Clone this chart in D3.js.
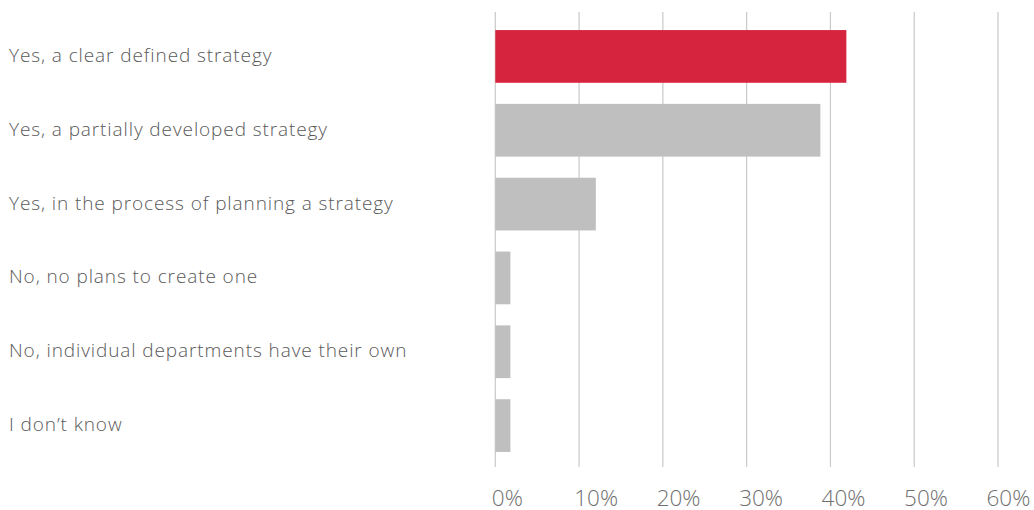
<!DOCTYPE html>
<html>
<head>
<meta charset="utf-8">
<script src="https://cdn.jsdelivr.net/npm/d3@7"></script>
<style>
  html, body { margin: 0; padding: 0; background: #fff; }
  svg { display: block; }
  text { font-family: "Open Sans", Lato, sans-serif; font-weight: 300; }
</style>
</head>
<body>
<svg id="chart" width="1034" height="510"></svg>
<script>
// Survey answers and share of respondents (%)
const categories = [
  "Yes, a clear defined strategy",
  "Yes, a partially developed strategy",
  "Yes, in the process of planning a strategy",
  "No, no plans to create one",
  "No, individual departments have their own",
  "I don\u2019t know"
];
const values = [41.9, 38.8, 12.0, 1.8, 1.8, 1.8];
const tickValues = [0, 10, 20, 30, 40, 50, 60];
const tickLabels = ["0%", "10%", "20%", "30%", "40%", "50%", "60%"];

const svg = d3.select("#chart");

const x = d3.scaleLinear().domain([0, 60]).range([495.3, 998]);
// tick labels sit on a slightly tighter spacing than the gridlines
const xLabel = d3.scaleLinear().domain([0, 60]).range([491.8, 986.5]);
const y = d3.scaleBand().domain(categories).range([19.5, 462.5]).paddingInner(0.286).paddingOuter(0.143);

const gridTop = 12, gridBottom = 467;

// vertical gridlines
svg.append("g")
  .selectAll("line")
  .data(tickValues)
  .join("line")
  .attr("x1", d => x(d)).attr("x2", d => x(d))
  .attr("y1", gridTop).attr("y2", gridBottom)
  .attr("stroke", "#c9c9c9")
  .attr("stroke-width", 1.2);

// bars
svg.append("g")
  .selectAll("rect")
  .data(categories)
  .join("rect")
  .attr("x", x(0))
  .attr("y", d => y(d))
  .attr("width", (d, i) => x(values[i]) - x(0))
  .attr("height", y.bandwidth())
  .attr("fill", (d, i) => i === 0 ? "#d6243f" : "#bebfbe");

// category labels
svg.append("g")
  .selectAll("text")
  .data(categories)
  .join("text")
  .attr("x", 9)
  .attr("y", d => y(d) + y.bandwidth() / 2 + 5.5)
  .attr("font-size", 19)
  .attr("letter-spacing", 0.9)
  .attr("fill", "#595959")
  .text(d => d);

// x-axis tick labels
svg.append("g")
  .selectAll("text")
  .data(tickValues)
  .join("text")
  .attr("x", d => xLabel(d))
  .attr("y", 506)
  .attr("font-size", 22.5)
  .attr("fill", "#6f6f6f")
  .text((d, i) => tickLabels[i]);
</script>
</body>
</html>
